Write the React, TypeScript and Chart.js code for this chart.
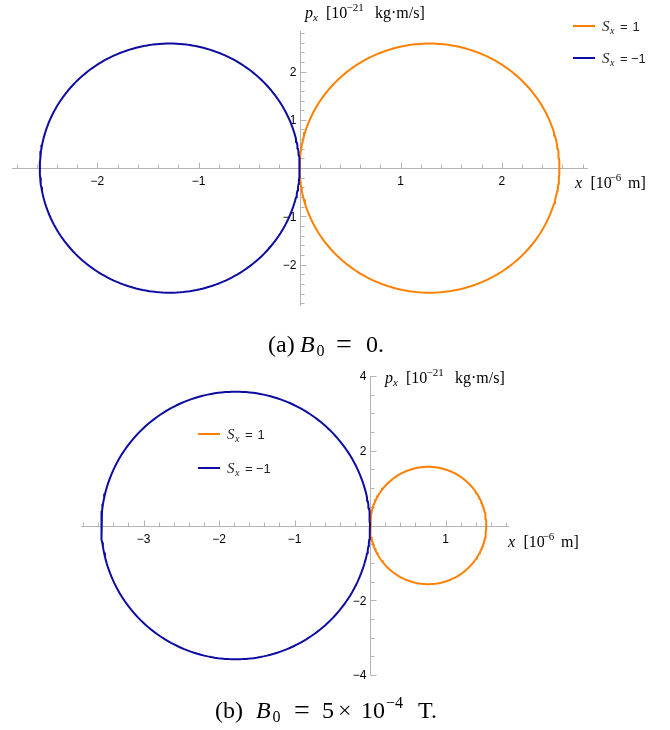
import React, { useEffect, useRef } from "react";
import { Chart, registerables } from "chart.js";

Chart.register(...registerables);

const ORANGE = "#ff8000";
const BLUE = "#0c0ca2";
const AXIS_GRAY = "#b4b4b4";

// S_x value of each trajectory (orange, blue)
const spinValues = ["1", "\u22121"];

// (a) B0 = 0 : orbit centre on the x axis, half-width in x, half-height in p_x
const orbitCenterA = [1.285, -1.285];
const orbitHalfWidthA = [1.285, 1.285];
const orbitHalfHeightA = [2.58, 2.58];

// (b) B0 = 5e-4 T
const orbitCenterB = [0.77, -1.78];
const orbitHalfWidthB = [0.77, 1.78];
const orbitHalfHeightB = [1.57, 3.58];

// labelled (major) ticks
const xTickLabelsA = [-2, -1, 1, 2];
const yTickLabelsA = [-2, -1, 1, 2];
const xTickLabelsB = [-3, -2, -1, 1];
const yTickLabelsB = [-4, -2, 2, 4];

// minor tick spacing
const xMinorStepA = 0.2;
const yMinorStepA = 0.2;
const xMinorStepB = 0.2;
const yMinorStepB = 0.5;

type Pt = { x: number; y: number };

function orbit(cx: number, rx: number, ry: number): Pt[] {
  const pts: Pt[] = [];
  const n = 240;
  for (let i = 0; i <= n; i++) {
    const t = (i / n) * Math.PI * 2 + Math.PI / 4;
    pts.push({ x: cx + rx * Math.cos(t), y: ry * Math.sin(t) });
  }
  return pts;
}

// a run of text; `x` places it at an absolute offset from the run origin
type Part = { text: string; font: string; dy?: number; x?: number };

function drawParts(ctx: CanvasRenderingContext2D, x: number, y: number, parts: Part[], color = "#000") {
  ctx.save();
  ctx.fillStyle = color;
  ctx.textBaseline = "alphabetic";
  ctx.textAlign = "left";
  let cx = x;
  for (const p of parts) {
    ctx.font = p.font;
    if (p.x !== undefined) cx = x + p.x;
    ctx.fillText(p.text, cx, y + (p.dy || 0));
    cx += ctx.measureText(p.text).width;
  }
  ctx.restore();
}

const SERIF = "'Liberation Serif', 'DejaVu Serif', serif";
const SANS = "'Liberation Sans', Arial, sans-serif";

function momentumLabel(): Part[] {
  return [
    { text: "p", font: `italic 16px ${SERIF}`, x: 0 },
    { text: "x", font: `italic 11px ${SERIF}`, dy: 3, x: 8 },
    { text: "[10", font: `16px ${SERIF}`, x: 21 },
    { text: "\u221221", font: `11px ${SERIF}`, dy: -7, x: 41.5 },
    { text: "kg\u00b7m/s]", font: `16px ${SERIF}`, x: 70 },
  ];
}

function positionLabel(): Part[] {
  return [
    { text: "x", font: `italic 16px ${SERIF}`, x: 0 },
    { text: "[10", font: `16px ${SERIF}`, x: 15.5 },
    { text: "\u22126", font: `11px ${SERIF}`, dy: -7, x: 34.5 },
    { text: "m]", font: `16px ${SERIF}`, x: 53 },
  ];
}

function fmt(v: number) {
  return v < 0 ? "\u2212" + String(-v) : String(v);
}

type PanelCfg = {
  xMajor: number[];
  yMajor: number[];
  xMinor: number;
  yMinor: number;
  legendX: number;
  legendY: number[];
  legendText: number;
  yLabelPos: [number, number];
  xLabelPos: [number, number];
  caption: Part[];
  captionPos: [number, number];
};

const originAxes = {
  id: "originAxes",
  beforeDatasetsDraw(chart: any, _args: any, opts: PanelCfg) {
    const ctx: CanvasRenderingContext2D = chart.ctx;
    const xs = chart.scales.x;
    const ys = chart.scales.y;
    const area = chart.chartArea;
    const x0 = Math.round(xs.getPixelForValue(0)) + 0.5;
    const y0 = Math.round(ys.getPixelForValue(0)) + 0.5;
    ctx.save();
    ctx.strokeStyle = AXIS_GRAY;
    ctx.lineWidth = 1;
    ctx.beginPath();
    ctx.moveTo(area.left, y0);
    ctx.lineTo(area.right, y0);
    ctx.moveTo(x0, area.top);
    ctx.lineTo(x0, area.bottom);
    const isMajor = (v: number, list: number[]) => list.some((m) => Math.abs(m - v) < 1e-6);
    // x ticks, pointing up
    for (let k = Math.ceil(xs.min / opts.xMinor); k * opts.xMinor <= xs.max; k++) {
      const v = k * opts.xMinor;
      if (Math.abs(v) < 1e-9) continue;
      const px = Math.round(xs.getPixelForValue(v)) + 0.5;
      const len = isMajor(v, opts.xMajor) ? 6 : 4;
      ctx.moveTo(px, y0);
      ctx.lineTo(px, y0 - len);
    }
    // y ticks, pointing right
    for (let k = Math.ceil(ys.min / opts.yMinor); k * opts.yMinor <= ys.max + 1e-9; k++) {
      const v = k * opts.yMinor;
      if (Math.abs(v) < 1e-9) continue;
      const py = Math.round(ys.getPixelForValue(v)) + 0.5;
      const len = isMajor(v, opts.yMajor) ? 6 : 4;
      ctx.moveTo(x0, py);
      ctx.lineTo(x0 + len, py);
    }
    ctx.stroke();

    ctx.fillStyle = "#000";
    ctx.font = `12px ${SANS}`;
    ctx.textAlign = "center";
    ctx.textBaseline = "middle";
    for (const v of opts.xMajor) {
      ctx.fillText(fmt(v), xs.getPixelForValue(v), y0 + 13);
    }
    ctx.textAlign = "right";
    for (const v of opts.yMajor) {
      ctx.fillText(fmt(v), x0 - 4, ys.getPixelForValue(v) + 1);
    }
    ctx.restore();
  },
  afterDraw(chart: any, _args: any, opts: PanelCfg) {
    const ctx: CanvasRenderingContext2D = chart.ctx;
    const colors = [ORANGE, BLUE];
    spinValues.forEach((s, i) => {
      const y = opts.legendY[i];
      ctx.save();
      ctx.strokeStyle = colors[i];
      ctx.lineWidth = 2;
      ctx.beginPath();
      ctx.moveTo(opts.legendX, y);
      ctx.lineTo(opts.legendX + 22, y);
      ctx.stroke();
      ctx.restore();
      drawParts(
        ctx,
        opts.legendText,
        y + 5,
        [
          { text: "S", font: `italic 15px ${SERIF}`, x: 0 },
          { text: "x", font: `italic 10px ${SERIF}`, dy: 3, x: 8 },
          { text: "=", font: `13px ${SANS}`, x: 18 },
          { text: s, font: `13px ${SANS}`, x: s.length > 1 ? 29 : 30.5 },
        ],
        "#222"
      );
    });
    drawParts(ctx, opts.yLabelPos[0], opts.yLabelPos[1], momentumLabel());
    drawParts(ctx, opts.xLabelPos[0], opts.xLabelPos[1], positionLabel());
    drawParts(ctx, opts.captionPos[0], opts.captionPos[1], opts.caption);
  },
};

type PanelProps = {
  top: number;
  height: number;
  padding: { left: number; right: number; top: number; bottom: number };
  xRange: [number, number];
  yRange: [number, number];
  centers: number[];
  halfWidths: number[];
  halfHeights: number[];
  cfg: PanelCfg;
};

function OrbitPanel(props: PanelProps) {
  const ref = useRef<HTMLCanvasElement | null>(null);
  useEffect(() => {
    if (!ref.current) return;
    const colors = [ORANGE, BLUE];
    const datasets = spinValues.map((s, i) => ({
      label: "S_x = " + s,
      data: orbit(props.centers[i], props.halfWidths[i], props.halfHeights[i]),
      showLine: true,
      borderColor: colors[i],
      backgroundColor: colors[i],
      borderWidth: 2,
      borderJoinStyle: "round",
      borderCapStyle: "round",
      pointRadius: 0,
      fill: false,
      tension: 0,
      order: i === 1 ? 0 : 1,
    }));
    const chart = new Chart(ref.current, {
      type: "scatter",
      data: { datasets } as any,
      options: {
        animation: false,
        responsive: false,
        events: [],
        layout: { padding: props.padding },
        scales: {
          x: { type: "linear", display: false, min: props.xRange[0], max: props.xRange[1] },
          y: { type: "linear", display: false, min: props.yRange[0], max: props.yRange[1] },
        },
        plugins: {
          legend: { display: false },
          tooltip: { enabled: false },
          originAxes: props.cfg,
        } as any,
      },
      plugins: [originAxes as any],
    });
    return () => chart.destroy();
  }, []);
  return (
    <canvas
      ref={ref}
      width={670}
      height={props.height}
      style={{ position: "absolute", left: 0, top: props.top, width: 670, height: props.height }}
    />
  );
}

const captionA: Part[] = [
  { text: "(a)", font: `24px ${SERIF}`, x: 0 },
  { text: "B", font: `italic 24px ${SERIF}`, x: 32 },
  { text: "0", font: `16px ${SERIF}`, dy: 4, x: 48.5 },
  { text: "=", font: `28px ${SERIF}`, dy: 1, x: 68 },
  { text: "0.", font: `24px ${SERIF}`, x: 98 },
];

const captionB: Part[] = [
  { text: "(b)", font: `24px ${SERIF}`, x: 0 },
  { text: "B", font: `italic 24px ${SERIF}`, x: 41 },
  { text: "0", font: `16px ${SERIF}`, dy: 4, x: 57.5 },
  { text: "=", font: `28px ${SERIF}`, dy: 1, x: 79 },
  { text: "5", font: `24px ${SERIF}`, x: 107 },
  { text: "\u00d7", font: `24px ${SERIF}`, x: 123 },
  { text: "10", font: `24px ${SERIF}`, x: 146 },
  { text: "\u22124", font: `16px ${SERIF}`, dy: -10, x: 171 },
  { text: "T.", font: `24px ${SERIF}`, x: 203 },
];

export default function App() {
  return (
    <div style={{ position: "absolute", left: 0, top: 0, width: 670, height: 730, background: "#fff" }}>
      <OrbitPanel
        top={0}
        height={365}
        padding={{ left: 12, right: 82, top: 31, bottom: 59 }}
        xRange={[-2.845, 2.853]}
        yRange={[-2.856, 2.84]}
        centers={orbitCenterA}
        halfWidths={orbitHalfWidthA}
        halfHeights={orbitHalfHeightA}
        cfg={{
          xMajor: xTickLabelsA,
          yMajor: yTickLabelsA,
          xMinor: xMinorStepA,
          yMinor: yMinorStepA,
          legendX: 573,
          legendY: [26, 58],
          legendText: 602,
          yLabelPos: [305, 18],
          xLabelPos: [575, 188],
          caption: captionA,
          captionPos: [268, 352],
        }}
      />
      <OrbitPanel
        top={365}
        height={365}
        padding={{ left: 81, right: 161, top: 11, bottom: 55 }}
        xRange={[-3.828, 1.841]}
        yRange={[-4, 4]}
        centers={orbitCenterB}
        halfWidths={orbitHalfWidthB}
        halfHeights={orbitHalfHeightB}
        cfg={{
          xMajor: xTickLabelsB,
          yMajor: yTickLabelsB,
          xMinor: xMinorStepB,
          yMinor: yMinorStepB,
          legendX: 198,
          legendY: [69, 103],
          legendText: 227,
          yLabelPos: [385, 18],
          xLabelPos: [508, 181.5],
          caption: captionB,
          captionPos: [215, 353],
        }}
      />
    </div>
  );
}
